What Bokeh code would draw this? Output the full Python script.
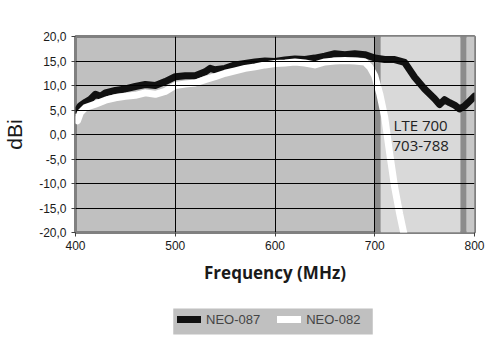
from bokeh.plotting import figure
from bokeh.layouts import column
from bokeh.models import FixedTicker, CustomJSTickFormatter, Legend, LegendItem, Label
from bokeh.embed import file_html
from bokeh.resources import INLINE

freq_087 = [400, 402, 405, 410, 415, 420, 425, 430, 440, 450, 460, 470, 480, 490, 500, 510, 520,
            530, 535, 540, 550, 560, 570, 580, 590, 600, 610, 620, 630, 640, 650, 660, 670, 680,
            690, 700, 710, 720, 730, 740, 750, 760, 765, 770, 775, 780, 785, 790, 795, 800]
gain_087 = [4.5, 5.0, 5.9, 6.6, 7.2, 8.2, 7.8, 8.5, 9.0, 9.3, 9.8, 10.2, 10.0, 10.8, 11.8, 12.0, 12.0,
            12.8, 13.5, 13.2, 13.5, 14.2, 14.5, 14.8, 15.0, 14.9, 15.2, 15.4, 15.3, 15.6, 16.0, 16.5, 16.3, 16.5,
            16.3, 15.6, 15.3, 15.3, 14.7, 11.7, 9.3, 7.3, 6.1, 7.1, 6.5, 6.0, 5.2, 5.8, 6.8, 7.8]

freq_082 = [400, 402, 405, 410, 420, 430, 440, 450, 460, 470, 480, 490, 500, 510, 520, 530, 540,
            550, 560, 570, 580, 590, 600, 610, 620, 630, 640, 650, 660, 670, 680, 690, 695, 700,
            705, 710, 715, 720, 725, 730]
gain_082 = [3.5, 2.8, 4.5, 5.5, 6.2, 7.0, 7.5, 7.8, 8.0, 8.5, 8.2, 8.8, 10.0, 10.3, 10.5, 11.2, 11.8,
            12.5, 13.0, 13.5, 13.8, 14.2, 14.5, 14.6, 14.8, 14.6, 14.2, 14.8, 15.0, 15.1, 15.0, 14.8, 13.8, 12.0,
            8.3, 3.5, -3.9, -10.8, -16.2, -21.0]

series_names = ["NEO-087", "NEO-082"]
series_colors = ["#111111", "white"]
band_edges = [700, 706, 786, 792, 800]
band_colors = ["#8c8c8c", "#d9d9d9", "#8c8c8c", "#c8c8c8"]
y_ticks = [-20, -15, -10, -5, 0, 5, 10, 15, 20]
x_ticks = [400, 500, 600, 700, 800]
band_label = "LTE 700\n703-788"

p = figure(width=500, height=290, x_range=(400, 800), y_range=(-20, 20),
           output_backend="svg", toolbar_location=None,
           min_border_left=74, min_border_right=26, min_border_top=36, min_border_bottom=58)
p.background_fill_color = "#c0c0c0"
p.border_fill_color = "white"
p.outline_line_color = "#808080"
p.outline_line_width = 3

p.quad(left=band_edges[:-1], right=band_edges[1:], bottom=-20, top=20, color=band_colors, line_color=None)

p.xgrid.ticker = FixedTicker(ticks=x_ticks)
p.ygrid.ticker = FixedTicker(ticks=y_ticks)
p.xgrid.grid_line_color = "black"
p.ygrid.grid_line_color = "black"
p.grid.grid_line_width = 1
p.grid.level = "glyph"

p.xaxis.ticker = FixedTicker(ticks=x_ticks)
p.yaxis.ticker = FixedTicker(ticks=y_ticks)
p.yaxis.formatter = CustomJSTickFormatter(code="return tick.toFixed(1).replace('.', ',');")
for ax in (p.xaxis, p.yaxis):
    ax.axis_line_color = None
    ax.major_tick_out = 4
    ax.major_tick_in = 0
    ax.minor_tick_line_color = None
    ax.major_tick_line_color = "#404040"
    ax.major_label_text_font = "Liberation Sans"
    ax.major_label_text_font_size = "12px"
    ax.major_label_text_color = "#1a1a1a"

p.yaxis.axis_label = "dBi"
p.yaxis.axis_label_text_font = "Liberation Sans"
p.yaxis.axis_label_text_font_size = "21px"
p.yaxis.axis_label_text_font_style = "normal"
p.yaxis.axis_label_text_color = "#1a1a1a"
p.yaxis.axis_label_standoff = 10
p.xaxis.axis_label = "Frequency (MHz)"
p.xaxis.axis_label_text_font = "Open Sans"
p.xaxis.axis_label_text_font_size = "17px"
p.xaxis.axis_label_text_font_style = "bold"
p.xaxis.axis_label_text_color = "#1a1a1a"
p.xaxis.axis_label_standoff = 8
p.xaxis.major_label_standoff = 4

p.line(freq_087, gain_087, line_color=series_colors[0], line_width=7, line_join="round", line_cap="round")
p.line(freq_082, gain_082, line_color=series_colors[1], line_width=7, line_join="round", line_cap="round")

lab = Label(x=746, y=-0.2, text=band_label, text_font="Open Sans", text_font_size="15px",
            text_color="#222222", text_align="center", text_baseline="middle", text_line_height=1.0)
p.add_layout(lab)

# legend panel
q = figure(width=500, height=70, x_range=(0, 1), y_range=(0, 1),
           output_backend="svg", toolbar_location=None,
           min_border_left=0, min_border_right=0, min_border_top=0, min_border_bottom=0)
q.axis.visible = False
q.grid.visible = False
q.outline_line_color = None
q.background_fill_color = "white"
# grey legend box backdrop (decoration)
q.quad(left=0.245, right=0.745, bottom=0.371, top=0.743, color="#c0c0c0", line_color=None)
items = []
for name, col in zip(series_names, series_colors):
    r = q.line([-5, -4], [-5, -5], line_color=col, line_width=7, line_cap="round")
    items.append(LegendItem(label=name, renderers=[r]))
legend = Legend(items=items, orientation="horizontal", location=(102, 31),
                background_fill_alpha=0, border_line_color=None,
                label_text_font="Liberation Sans",
                label_text_font_size="13px", glyph_width=24,
                spacing=17, padding=3, margin=0, label_standoff=5)
q.add_layout(legend)

open("out.html", "w").write(file_html(column(p, q, spacing=0), INLINE))
